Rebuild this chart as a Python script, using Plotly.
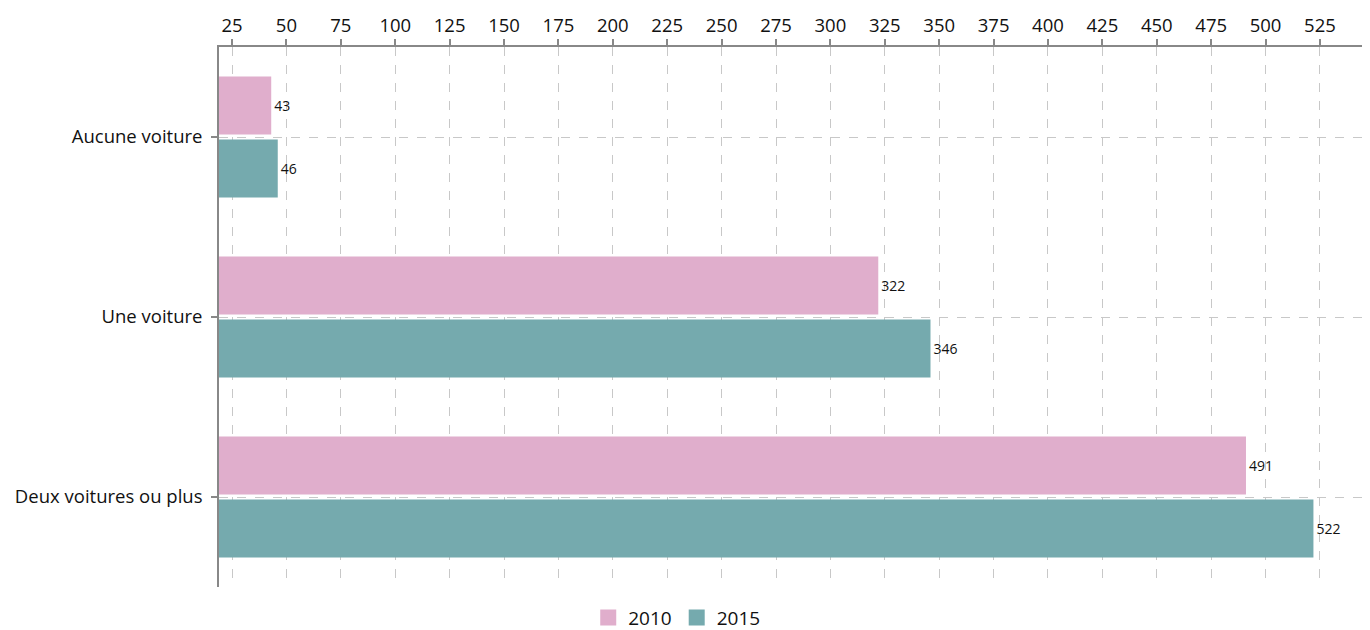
import plotly.graph_objects as go

categories = ["Aucune voiture", "Une voiture", "Deux voitures ou plus"]
series_names = ["2010", "2015"]
values_2010 = [43, 322, 491]
values_2015 = [46, 346, 522]
tick_values = list(range(25, 526, 25))

colors = {"2010": "#E0AECC", "2015": "#75AAAE"}
FONT = "Open Sans"

fig = go.Figure()
for name, vals in zip(series_names, [values_2010, values_2015]):
    fig.add_trace(go.Bar(
        y=categories, x=vals, orientation="h", name=name,
        marker=dict(color=colors[name], line=dict(width=0)),
        text=[str(v) for v in vals], textposition="outside",
        textfont=dict(size=14, color="#111", family=FONT),
        cliponaxis=False, showlegend=False,
    ))
# legend entries with larger square swatches
for name in series_names:
    fig.add_trace(go.Scatter(
        x=[None], y=[None], mode="markers", name=name,
        marker=dict(symbol="square", size=21, color=colors[name]),
        showlegend=True,
    ))

# page body has an 8px default margin, so the figure is sized/offset to fit the window
fig.update_layout(
    width=1362, height=622,
    margin=dict(l=211, r=0, t=39, b=43),
    paper_bgcolor="white", plot_bgcolor="white",
    barmode="group", bargap=0.3, bargroupgap=0.08,
    font=dict(family=FONT, size=18, color="#111"),
    legend=dict(orientation="h", xref="container", x=0.491, xanchor="center",
                yref="container", y=0.02, yanchor="middle",
                font=dict(size=19), itemwidth=30, traceorder="normal"),
    xaxis=dict(
        side="top", range=[19, 548], tickmode="array", tickvals=tick_values,
        showline=True, linecolor="#888", linewidth=2,
        ticks="outside", ticklen=6, tickwidth=2, tickcolor="#888",
        showgrid=True, gridcolor="#c8c8c8", griddash="dash", gridwidth=1,
        zeroline=False, tickfont=dict(size=18.5), fixedrange=True,
        automargin=False,
    ),
    yaxis=dict(
        autorange="reversed", type="category",
        showline=True, linecolor="#888", linewidth=2,
        ticks="outside", ticklen=6, tickwidth=2, tickcolor="#888",
        showgrid=True, gridcolor="#c8c8c8", griddash="dash", gridwidth=1,
        tickfont=dict(size=18.5), ticksuffix=" ", automargin=False,
    ),
)

fig.write_html("out.html")
